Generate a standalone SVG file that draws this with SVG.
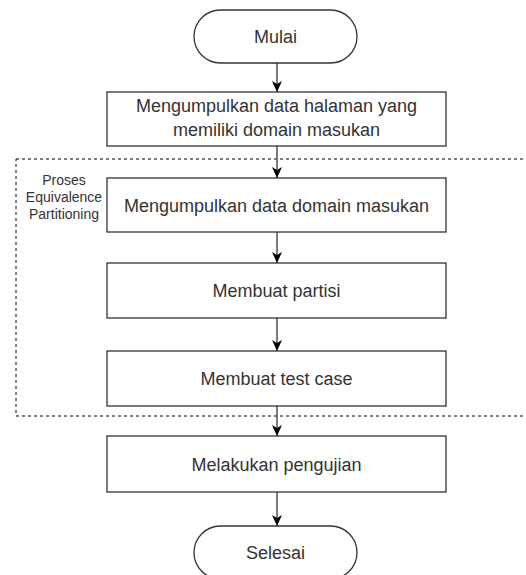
<svg xmlns="http://www.w3.org/2000/svg" width="526" height="575" viewBox="0 0 526 575">
<style>
.box{fill:#fff;stroke:#333;stroke-width:1.3}
.t{font-family:"Liberation Sans",Arial,sans-serif;font-size:18px;fill:#333;text-anchor:middle}
.lbl{font-family:"Liberation Sans",Arial,sans-serif;font-size:14px;fill:#333;text-anchor:middle}
.edge{stroke:#444;stroke-width:1.4;fill:none;marker-end:url(#ah)}
.grp{fill:none;stroke:#000;stroke-width:1;stroke-dasharray:3 3}
</style>
<defs>
<marker id="ah" markerUnits="userSpaceOnUse" markerWidth="12" markerHeight="12" viewBox="0 0 12 12" refX="11" refY="6" orient="auto">
<path d="M0,1 L11,6 L0,11 L3,6 Z" fill="#000"/>
</marker>
</defs>
<rect width="526" height="575" fill="#fff"/>
<g id="group-ep">
<rect class="grp" x="16" y="159" width="530" height="257"/>
<text class="lbl" x="64" y="185">Proses</text>
<text class="lbl" x="64" y="202">Equivalence</text>
<text class="lbl" x="64" y="219">Partitioning</text>
</g>
<g id="edges">
<path class="edge" d="M277,63 L277,92"/>
<path class="edge" d="M277,146 L277,178"/>
<path class="edge" d="M277,232 L277,263"/>
<path class="edge" d="M277,318 L277,351"/>
<path class="edge" d="M277,406 L277,436"/>
<path class="edge" d="M277,492 L277,526"/>
</g>
<g id="mulai">
<rect class="box" x="194" y="10" width="163" height="53" rx="26.5"/>
<text class="t" x="275.5" y="43">Mulai</text>
</g>
<g id="step1">
<rect class="box" x="107" y="92" width="339" height="54"/>
<text class="t" x="276.5" y="112">Mengumpulkan data halaman yang</text>
<text class="t" x="276.5" y="136">memiliki domain masukan</text>
</g>
<g id="step2">
<rect class="box" x="107" y="178" width="339" height="54"/>
<text class="t" x="276.5" y="211.5">Mengumpulkan data domain masukan</text>
</g>
<g id="step3">
<rect class="box" x="107" y="263" width="339" height="55"/>
<text class="t" x="276.5" y="297">Membuat partisi</text>
</g>
<g id="step4">
<rect class="box" x="107" y="351" width="339" height="55"/>
<text class="t" x="276.5" y="385">Membuat test case</text>
</g>
<g id="step5">
<rect class="box" x="107" y="436" width="339" height="56"/>
<text class="t" x="276.5" y="470.5">Melakukan pengujian</text>
</g>
<g id="selesai">
<rect class="box" x="194" y="526" width="163" height="53" rx="26.5"/>
<text class="t" x="275.5" y="559">Selesai</text>
</g>
</svg>
